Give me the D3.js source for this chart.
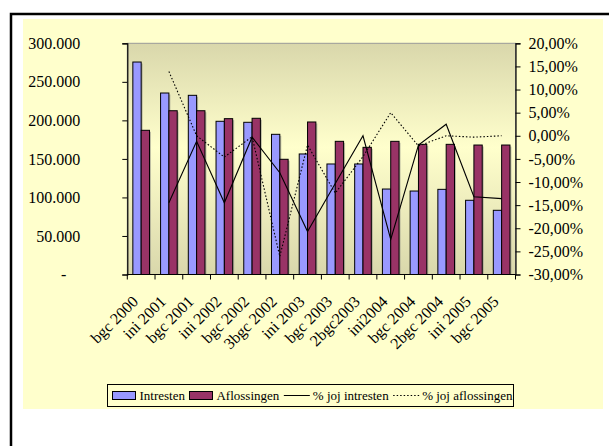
<!DOCTYPE html>
<html>
<head>
<meta charset="utf-8">
<script src="https://cdn.jsdelivr.net/npm/d3@7"></script>
<style>
  body { margin: 0; background: #fff; }
  text { font-family: "Liberation Serif", "Times New Roman", serif; fill: #000; }
</style>
</head>
<body>
<script>
// chart data
const categories = ["bgc 2000", "ini 2001", "bgc 2001", "ini 2002", "bgc 2002", "3bgc 2002", "ini 2003",
  "bgc 2003", "2bgc2003", "ini2004", "bgc 2004", "2bgc 2004", "ini 2005", "bgc 2005"];
const intresten = [275700, 235500, 232500, 198800, 197500, 181900, 156400, 143400, 143400, 110900, 108300, 110500, 96300, 83300];
const aflossingen = [187100, 212500, 212500, 202200, 202700, 149500, 197900, 172800, 165000, 172800, 168900, 168900, 168000, 168000];
const pctIntresten = [null, -14.5, -1.2, -14.5, -0.3, -8.0, -20.7, -10.3, 0.0, -22.4, -2.0, 2.5, -13.2, -13.6];
const pctAflossingen = [null, 13.9, 0.0, -4.6, -0.2, -26.1, -2.0, -12.4, -4.5, 5.0, -2.2, 0.0, -0.3, 0.0];
const leftTicks = [0, 50000, 100000, 150000, 200000, 250000, 300000];
const rightTicks = [-30, -25, -20, -15, -10, -5, 0, 5, 10, 15, 20];
const legendNames = ["Intresten", "Aflossingen", "% joj intresten", "% joj aflossingen"];

const W = 609, H = 446;
const plot = { left: 127.3, right: 515.5, top: 43.3, bottom: 274.5 };
const serif = "'Liberation Serif', 'Times New Roman', serif";

var svg = d3.select("body").append("svg")
    .attr("width", W)
    .attr("height", H);

// outer frame (only left and top edge visible)
svg.append("rect")
    .attr("x", 11).attr("y", 14)
    .attr("width", 640).attr("height", 480)
    .attr("fill", "none").attr("stroke", "#000").attr("stroke-width", 2.5);

// chart area
svg.append("rect")
    .attr("x", 23).attr("y", 19)
    .attr("width", 580).attr("height", 390)
    .attr("fill", "#FFFFCC");

var defs = svg.append("defs");
var grad = defs.append("linearGradient").attr("id", "plotGrad")
    .attr("x1", 0).attr("y1", 0).attr("x2", 0).attr("y2", 1);
grad.append("stop").attr("offset", "0%").attr("stop-color", "#D9D7AB");
grad.append("stop").attr("offset", "45%").attr("stop-color", "#FFFFCC");
grad.append("stop").attr("offset", "100%").attr("stop-color", "#D9D7AB");

svg.append("rect")
    .attr("x", plot.left).attr("y", plot.top)
    .attr("width", plot.right - plot.left).attr("height", plot.bottom - plot.top)
    .attr("fill", "url(#plotGrad)")
    .attr("stroke", "#999").attr("stroke-width", 1);

var x = d3.scaleBand().domain(categories).range([plot.left, plot.right]).padding(0);
var y = d3.scaleLinear().domain([0, 300000]).range([plot.bottom, plot.top]);
var y2 = d3.scaleLinear().domain([-30, 20]).range([plot.bottom, plot.top]);

var bw = x.bandwidth() * 0.3;
var inset = (x.bandwidth() - 2 * bw) / 2;

var rows = categories.map(function(c, i) {
    return { cat: c, a: intresten[i], b: aflossingen[i], pa: pctIntresten[i], pb: pctAflossingen[i] };
});

// bar shadows
var shadow = svg.append("g").attr("fill", "#777").attr("opacity", 0.45);
rows.forEach(function(d) {
    shadow.append("rect").attr("x", x(d.cat) + inset + 1.5).attr("y", y(d.a) + 1.5)
        .attr("width", bw).attr("height", plot.bottom - y(d.a) - 1.5);
    shadow.append("rect").attr("x", x(d.cat) + inset + bw + 1.5).attr("y", y(d.b) + 1.5)
        .attr("width", bw).attr("height", plot.bottom - y(d.b) - 1.5);
});

svg.append("g").selectAll("rect")
    .data(rows).enter().append("rect")
    .attr("x", function(d) { return x(d.cat) + inset; })
    .attr("y", function(d) { return y(d.a); })
    .attr("width", bw)
    .attr("height", function(d) { return plot.bottom - y(d.a); })
    .attr("fill", "#9999FF").attr("stroke", "#000").attr("stroke-width", 1);

svg.append("g").selectAll("rect")
    .data(rows).enter().append("rect")
    .attr("x", function(d) { return x(d.cat) + inset + bw; })
    .attr("y", function(d) { return y(d.b); })
    .attr("width", bw)
    .attr("height", function(d) { return plot.bottom - y(d.b); })
    .attr("fill", "#993366").attr("stroke", "#000").attr("stroke-width", 1);

// percent lines
var lineA = d3.line()
    .defined(function(d) { return d.pa !== null; })
    .x(function(d) { return x(d.cat) + x.bandwidth() / 2; })
    .y(function(d) { return y2(d.pa); });
var lineB = d3.line()
    .defined(function(d) { return d.pb !== null; })
    .x(function(d) { return x(d.cat) + x.bandwidth() / 2; })
    .y(function(d) { return y2(d.pb); });

svg.append("path").datum(rows).attr("d", lineA)
    .attr("fill", "none").attr("stroke", "#000").attr("stroke-width", 1.1);
svg.append("path").datum(rows).attr("d", lineB)
    .attr("fill", "none").attr("stroke", "#000").attr("stroke-width", 1.1)
    .attr("stroke-dasharray", "1.5,2");

// axes
var leftAxis = svg.append("g").attr("transform", "translate(" + plot.left + ",0)")
    .call(d3.axisLeft(y).tickValues(leftTicks).tickSize(5).tickPadding(42)
        .tickFormat(function(v) { return v === 0 ? "-" : d3.format(",")(v).replace(/,/g, "."); }));
var rightAxis = svg.append("g").attr("transform", "translate(" + plot.right + ",0)")
    .call(d3.axisRight(y2).tickValues(rightTicks).tickSize(5).tickPadding(8)
        .tickFormat(function(v) { return v.toFixed(2).replace(".", ",") + "%"; }));
[leftAxis, rightAxis].forEach(function(g) {
    g.attr("font-family", serif).attr("font-size", 16);
    g.select(".domain").attr("stroke", "#000").attr("stroke-width", 1.2);
    g.selectAll(".tick line").attr("stroke", "#000");
    g.selectAll("text").style("font-size", "16px").style("font-family", serif);
});
leftAxis.selectAll(".tick text").filter(function(d) { return d === 0; }).attr("x", -61);

// bottom axis: ticks at category boundaries
var bottom = svg.append("g");
bottom.append("line").attr("x1", plot.left).attr("x2", plot.right)
    .attr("y1", plot.bottom).attr("y2", plot.bottom)
    .attr("stroke", "#000").attr("stroke-width", 1.2);
bottom.selectAll("line.tk")
    .data(categories.concat(["end"])).enter().append("line")
    .attr("class", "tk")
    .attr("x1", function(d, i) { return plot.left + i * x.bandwidth(); })
    .attr("x2", function(d, i) { return plot.left + i * x.bandwidth(); })
    .attr("y1", plot.bottom).attr("y2", plot.bottom + 5)
    .attr("stroke", "#000");
bottom.selectAll("text")
    .data(categories).enter().append("text")
    .attr("transform", function(d) {
        return "translate(" + (x(d) + x.bandwidth() / 2 - 2) + "," + (plot.bottom + 28) + ") rotate(-45)";
    })
    .attr("text-anchor", "end")
    .style("font-size", "16px")
    .style("font-family", serif)
    .text(function(d) { return d; });

// legend
var lg = svg.append("g");
lg.append("rect").attr("x", 107.5).attr("y", 384.5).attr("width", 406).attr("height", 22)
    .attr("fill", "#FFFFCC").attr("stroke", "#000").attr("stroke-width", 1);
var lx = 112.5, ly = 395.5;
legendNames.forEach(function(name, i) {
    if (i < 2) {
        lg.append("rect").attr("x", lx).attr("y", ly - 4).attr("width", 23).attr("height", 8)
            .attr("fill", i === 0 ? "#9999FF" : "#993366").attr("stroke", "#000");
    } else {
        lg.append("line").attr("x1", lx).attr("x2", lx + 26).attr("y1", ly).attr("y2", ly)
            .attr("stroke", "#000").attr("stroke-dasharray", i === 3 ? "1.5,2" : null);
    }
    var t = lg.append("text").attr("x", lx + (i < 2 ? 27 : 29)).attr("y", ly).attr("dy", "0.35em")
        .style("font-size", "13px").style("font-family", serif).text(name);
    lx = lx + (i < 2 ? 27 : 29) + t.node().getComputedTextLength() + 4.5;
});
</script>
</body>
</html>
